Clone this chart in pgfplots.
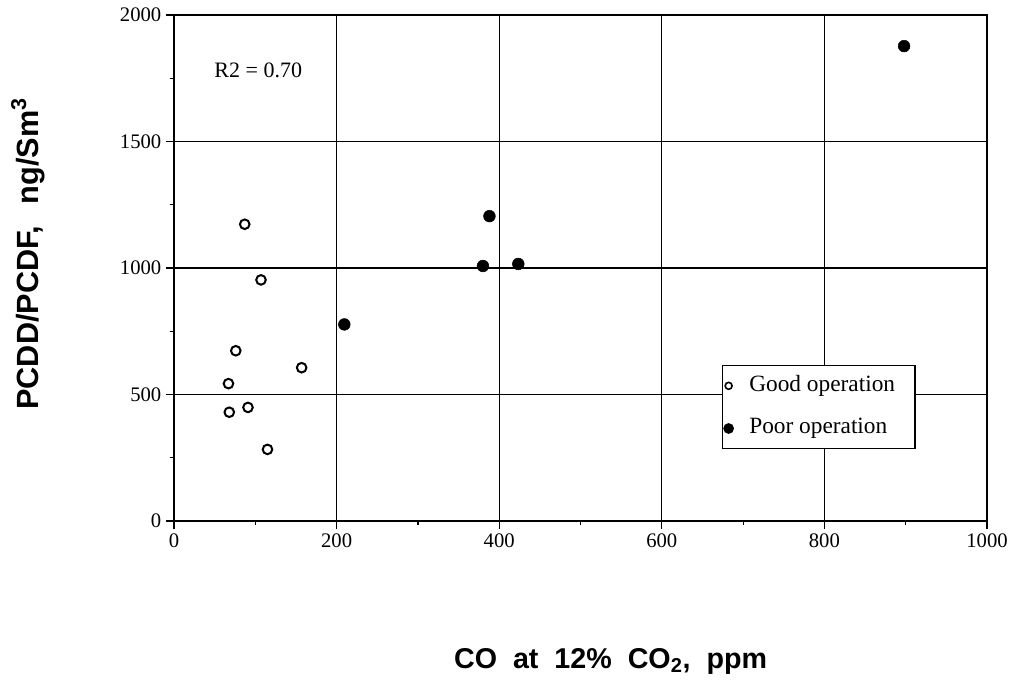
\documentclass[border=0pt]{standalone}
\usepackage{fontspec}
\setmainfont{Liberation Serif}
\newfontfamily\labelfont{Liberation Sans}
\usepackage{pgfplots}
\pgfplotsset{compat=1.18}
\usepackage{pgfplotstable}

% CO (ppm) vs PCDD/PCDF (ng/Sm3)
\pgfplotstableread{
x y
87 1173
107 953
76 673
157 606
67 543
68 430
91 449
115 283
}\good
\pgfplotstableread{
x y
209.5 777
388 1205
380 1008
423.5 1016
898 1877
}\poor

\begin{document}
\begin{tikzpicture}
\useasboundingbox (-130.5pt,-120.75pt) rectangle (626.25pt,390.75pt);
\begin{axis}[
    at={(0pt,0pt)}, anchor=south west,
    scale only axis, width=609.75pt, height=379.5pt,
    xmin=0, xmax=1000, ymin=0, ymax=2000,
    xtick={0,200,...,1000}, ytick={0,500,...,2000},
    minor x tick num=1, minor y tick num=1,
    xtick pos=bottom, ytick pos=left,
    tick align=outside, major tick length=6pt, minor tick length=3pt,
    grid=major, major grid style={black, line width=1pt},
    axis line style={line width=1.2pt},
    tick style={black, line width=0.9pt},
    ticklabel style={font=\fontsize{15.5}{18}\selectfont},
    /pgf/number format/assume math mode=true,
    /pgf/number format/1000 sep={},
    xlabel={CO\ \ at\ \ 12\%\ \ CO\textsubscript{2},\ \ ppm},
    ylabel={PCDD/PCDF,\hspace{0.7em}ng/Sm\textsuperscript{3}},
    xlabel style={at={(rel axis cs:0.537,-0.2767)}, anchor=center,
        font=\labelfont\bfseries\fontsize{21.5}{25}\selectfont},
    ylabel style={at={(rel axis cs:-0.1796,0.528)}, anchor=center,
        font=\labelfont\bfseries\fontsize{23}{27}\selectfont},
    legend style={at={(rel axis cs:0.674,0.308)}, anchor=north west,
        draw=black, line width=1pt, inner xsep=1pt, inner ysep=5pt,
        row sep=12pt, column sep=10pt,
        font=\fontsize{17.5}{20}\selectfont,
        nodes={inner sep=2pt, text height=12pt, text depth=4pt}},
    legend cell align=left,
    legend image code/.code={\draw[mark repeat=2,mark phase=2]
        plot coordinates {(0pt,0pt)(4pt,0pt)(8pt,0pt)};},
]
\addplot[only marks, mark=o, mark size=3.6pt, black, line width=1.5pt,
    legend image post style={mark size=2.6pt, line width=1.2pt}]
    table[x=x,y=y] {\good};
\addlegendentry{Good operation\hspace*{12pt}}
\addplot[only marks, mark=*, mark size=4.4pt, black,
    legend image post style={mark size=3.5pt}]
    table[x=x,y=y] {\poor};
\addlegendentry{Poor operation}
\node[anchor=west, font=\fontsize{16.5}{19}\selectfont] at (axis cs:44,1783) {R2 = 0.70};
\end{axis}
\end{tikzpicture}
\end{document}
